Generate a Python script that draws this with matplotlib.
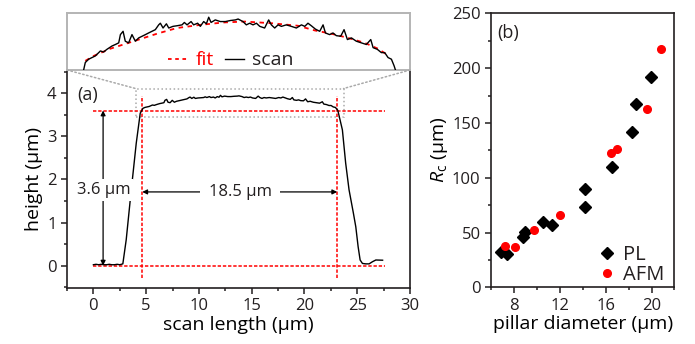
import numpy as np
import matplotlib
matplotlib.use("Agg")
import matplotlib.pyplot as plt
from matplotlib.patches import Rectangle, ConnectionPatch
from matplotlib.ticker import MultipleLocator
from matplotlib.lines import Line2D

plt.rcParams['font.family'] = ['Open Sans', 'DejaVu Sans']
plt.rcParams['mathtext.fontset'] = 'custom'
plt.rcParams['mathtext.rm'] = 'Open Sans'
plt.rcParams['mathtext.it'] = 'Open Sans:italic'
ink = '#231f20'
plt.rcParams['text.color'] = ink
plt.rcParams['xtick.color'] = ink
plt.rcParams['ytick.color'] = ink
plt.rcParams['axes.edgecolor'] = ink

# ---- panel (a): AFM height profile (um) ----
scan_x = [0.0, 0.25, 0.5, 0.75, 1.0, 1.25, 1.5, 1.75, 2.0, 2.25, 2.5, 2.79,
          3.11, 3.59, 4.06, 4.44,
          4.59, 4.69, 4.89, 5.09, 5.29, 5.49, 5.59, 5.78, 5.98, 6.28, 6.48, 6.68,
          6.78, 6.94, 7.07, 7.27, 7.47, 7.67, 7.87, 8.07, 8.27, 8.46, 8.66, 8.86,
          9.06, 9.16, 9.32, 9.52, 9.66, 9.91, 10.15, 10.45, 10.59, 10.75, 10.99,
          11.14, 11.38, 11.54, 11.74, 11.90, 12.04, 12.18, 12.43, 12.73, 13.03,
          13.33, 13.63, 13.79, 14.08, 14.28, 14.48, 14.68, 14.88, 15.08, 15.37,
          15.61, 15.77, 15.97, 16.17, 16.37, 16.66, 16.96, 17.26, 17.56, 17.76,
          17.95, 18.15, 18.39, 18.65, 18.85, 18.99, 19.24, 19.44, 19.64, 19.90,
          20.10, 20.30, 20.54, 20.83, 21.13, 21.43, 21.69, 21.83, 22.08, 22.32,
          22.52, 22.72, 22.92, 23.08, 23.16,
          23.59, 23.90, 24.22, 24.63, 24.86, 25.08, 25.27, 25.49, 25.81, 26.12,
          26.44, 26.76, 27.40]
scan_z = [0.02, 0.03, 0.02, 0.03, 0.02, 0.02, 0.03, 0.02, 0.02, 0.03, 0.02, 0.04,
          0.60, 1.76, 2.84, 3.54,
          3.600, 3.650, 3.672, 3.683, 3.694, 3.716, 3.727, 3.720, 3.738, 3.760, 3.770, 3.781,
          3.836, 3.858, 3.792, 3.781, 3.836, 3.792, 3.814, 3.825, 3.836, 3.847, 3.858, 3.869,
          3.901, 3.912, 3.880, 3.908, 3.880, 3.891, 3.895, 3.901, 3.917, 3.901, 3.923,
          3.901, 3.912, 3.891, 3.923, 3.908, 3.952, 3.917, 3.934, 3.923, 3.923,
          3.930, 3.934, 3.940, 3.923, 3.901, 3.912, 3.901, 3.912, 3.891, 3.880,
          3.934, 3.901, 3.880, 3.901, 3.891, 3.901, 3.891, 3.880, 3.901, 3.891,
          3.912, 3.895, 3.873, 3.858, 3.901, 3.847, 3.836, 3.847, 3.829, 3.825,
          3.869, 3.803, 3.814, 3.792, 3.781, 3.770, 3.803, 3.749, 3.738, 3.716,
          3.716, 3.683, 3.672, 3.628, 3.600,
          3.15, 2.38, 1.76, 1.22, 0.90, 0.44, 0.13, 0.05, 0.04, 0.04,
          0.09, 0.13, 0.125]

# fitted cap profile shown in the zoom box
fit_x = [4.69, 5.19, 6.18, 7.57, 8.96, 10.15, 11.54, 12.93, 14.18, 15.77,
         17.36, 18.35, 19.34, 20.34, 21.33, 22.12, 22.62]
fit_z = [3.661, 3.694, 3.742, 3.792, 3.842, 3.880, 3.901, 3.917, 3.923, 3.912,
         3.895, 3.864, 3.842, 3.814, 3.781, 3.742, 3.705]

edge_left, edge_right = 4.63, 23.1
step_h = 3.6

# ---- panel (b): radius of curvature vs pillar diameter ----
pl_d = [6.87, 7.36, 8.75, 8.98, 10.55, 11.30, 14.23, 14.23, 16.55, 18.32, 18.61, 19.91]
pl_r = [31.9, 30.4, 46.2, 50.7, 59.3, 56.6, 89.4, 73.0, 109.5, 141.4, 167.2, 191.9]
afm_d = [7.25, 8.12, 9.71, 12.03, 16.46, 16.96, 19.62, 20.84]
afm_r = [37.7, 36.5, 52.6, 65.7, 122.5, 126.2, 163.0, 217.2]

fig = plt.figure(figsize=(6.95, 3.44), dpi=100)

ax = fig.add_axes([0.0964, 0.1628, 0.4936, 0.6337])
axi = fig.add_axes([0.0964, 0.7965, 0.4936, 0.1648])
axb = fig.add_axes([0.7065, 0.1648, 0.2640, 0.7965])

red = '#ff0000'
dots = (0, (2.2, 1.2))

# main profile
ax.plot(scan_x, scan_z, color='black', lw=1.0, zorder=3)
for yy in (0, step_h):
    ax.plot([0, 27.6], [yy, yy], color=red, lw=1.1, ls=dots, zorder=2)
for xx in (edge_left, edge_right):
    ax.plot([xx, xx], [-0.29, 3.93], color=red, lw=1.1, ls=dots, zorder=2)

ax.annotate('', xy=(0.92, 0), xytext=(0.92, step_h),
            arrowprops=dict(arrowstyle='<|-|>', color='black', lw=0.9,
                            mutation_scale=7, shrinkA=0, shrinkB=0))
ax.text(0.95, 1.76, '3.6 µm', ha='center', va='center', fontsize=12,
        bbox=dict(facecolor='white', edgecolor='none', pad=2), zorder=4)
ax.annotate('', xy=(edge_left, 1.71), xytext=(edge_right, 1.71),
            arrowprops=dict(arrowstyle='<|-|>', color='black', lw=0.9,
                            mutation_scale=7, shrinkA=0, shrinkB=0))
ax.text(13.9, 1.71, '18.5 µm', ha='center', va='center', fontsize=12,
        bbox=dict(facecolor='white', edgecolor='none', pad=6), zorder=4)

ax.set_xlim(-2.5, 30)
ax.set_ylim(-0.52, 4.54)
ax.xaxis.set_major_locator(MultipleLocator(5))
ax.xaxis.set_minor_locator(MultipleLocator(2.5))
ax.yaxis.set_major_locator(MultipleLocator(1))
ax.yaxis.set_minor_locator(MultipleLocator(0.5))
ax.spines['top'].set_visible(False)
for s in ('left', 'bottom', 'right'):
    ax.spines[s].set_linewidth(1.2)
ax.tick_params(which='both', direction='out', width=1.1, labelsize=12)
ax.tick_params(which='major', length=4)
ax.tick_params(which='minor', length=2.5)
ax.set_xlabel('scan length (µm)', fontsize=14, labelpad=1)
ax.set_ylabel('height (µm)', fontsize=14, labelpad=3)
ax.text(0.03, 0.885, '(a)', transform=ax.transAxes, fontsize=13, va='center')

# zoom box + connectors
zoom_x0, zoom_x1, zoom_y0, zoom_y1 = 4.0, 23.7, 3.46, 4.11
ax.add_patch(Rectangle((zoom_x0, zoom_y0), zoom_x1 - zoom_x0, zoom_y1 - zoom_y0,
                       fill=False, edgecolor='#aaaaaa', lw=1.1, ls=':', zorder=1))
for fx, dx in ((0, zoom_x0), (1, zoom_x1)):
    con = ConnectionPatch(xyA=(fx, 0), coordsA=axi.transAxes,
                          xyB=(dx, zoom_y1), coordsB=ax.transData,
                          color='#aaaaaa', lw=1.1, ls=':')
    fig.add_artist(con)

# inset (magnified top)
axi.plot(fit_x, fit_z, color=red, lw=1.3, ls=(0, (2.5, 2.5)), zorder=2, label='fit')
axi.plot(scan_x, scan_z, color='black', lw=1.0, zorder=3, label='scan')
axi.set_xlim(3.6, 24.03)
axi.set_ylim(3.6, 3.978)
axi.set_xticks([])
axi.set_yticks([])
for s in axi.spines.values():
    s.set_color('#b4b4b4')
    s.set_linewidth(1.4)
leg = axi.legend(handles=[Line2D([], [], color=red, lw=1.3, ls=(0, (2, 2))),
                          Line2D([], [], color='black', lw=1.0)],
                 labels=['fit', 'scan'], ncol=2, frameon=False, fontsize=14,
                 loc='center', bbox_to_anchor=(0.478, 0.17), handlelength=0.95,
                 handletextpad=0.45, columnspacing=0.6, borderpad=0)
leg.get_texts()[0].set_color(red)
leg.get_texts()[1].set_color(ink)

# panel (b)
axb.plot(pl_d, pl_r, ls='none', marker='D', ms=6.5, color='black', label='PL', zorder=3)
axb.plot(afm_d, afm_r, ls='none', marker='o', ms=5.5, color=red, label='AFM', zorder=3)
axb.set_xlim(6, 22)
axb.set_ylim(0, 250)
axb.xaxis.set_major_locator(MultipleLocator(4))
axb.xaxis.set_minor_locator(MultipleLocator(2))
axb.yaxis.set_major_locator(MultipleLocator(50))
axb.yaxis.set_minor_locator(MultipleLocator(25))
for s in axb.spines.values():
    s.set_linewidth(1.2)
axb.tick_params(which='both', direction='out', width=1.1, labelsize=12)
axb.tick_params(which='major', length=4)
axb.tick_params(which='minor', length=2.5)
axb.set_xlabel('pillar diameter (µm)', fontsize=14, labelpad=1)
axb.set_ylabel(r'$R_\mathrm{c}$ (µm)', fontsize=14, labelpad=1)
axb.text(0.034, 0.928, '(b)', transform=axb.transAxes, fontsize=13, va='center')
axb.legend(loc='lower right', frameon=False, fontsize=14.5, handletextpad=0.3,
           borderaxespad=0.0, labelspacing=0.0, handlelength=1.0,
           bbox_to_anchor=(0.99, -0.02))

fig.savefig('out.png', dpi=100)
